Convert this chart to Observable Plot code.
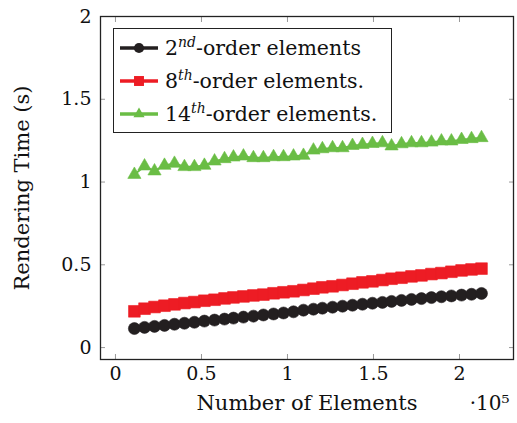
<!DOCTYPE html>
<html><head><meta charset="utf-8">
<script src="https://cdn.jsdelivr.net/npm/d3@7"></script>
<script src="https://cdn.jsdelivr.net/npm/@observablehq/plot@0.6"></script>
<style>
body{margin:0;background:#fff;}
#wrap{position:relative;width:517px;height:423px;font-family:"DejaVu Serif",serif;}
#legend{position:absolute;left:113px;top:28px;width:277px;height:103px;border:1.3px solid #222;background:#fff;}
.row{position:absolute;left:0;height:33px;display:flex;align-items:center;font-size:20.5px;color:#111;white-space:nowrap;}
.row svg{margin-left:6px;margin-right:7px;}
.sup{font-style:italic;font-size:0.68em;position:relative;top:-0.55em;}
</style></head><body><div id="wrap"><div id="chart"></div><div id="legend"></div></div>
<script>
// Number of elements (x values)
const xElems = [11000,16900,22700,28500,34300,40100,45900,51700,57600,63400,68600,74400,80200,86000,91900,97700,103500,109300,115100,120300,126200,132000,137800,143600,149400,155200,160500,166300,172100,177900,183700,189500,195300,201200,207000,212800];
// Rendering time (s), per element order
const order2 = [0.115,0.122,0.128,0.134,0.141,0.147,0.153,0.160,0.166,0.172,0.178,0.184,0.190,0.197,0.203,0.209,0.216,0.226,0.232,0.238,0.244,0.250,0.256,0.262,0.268,0.273,0.279,0.285,0.291,0.296,0.302,0.307,0.312,0.317,0.322,0.327];
const order8 = [0.219,0.235,0.245,0.253,0.261,0.269,0.275,0.283,0.289,0.297,0.303,0.309,0.315,0.320,0.328,0.334,0.340,0.348,0.356,0.364,0.370,0.378,0.386,0.394,0.400,0.408,0.416,0.422,0.430,0.436,0.444,0.450,0.458,0.466,0.472,0.477];
const order14 = [1.045,1.096,1.066,1.100,1.112,1.092,1.092,1.100,1.126,1.140,1.150,1.156,1.146,1.146,1.152,1.152,1.156,1.160,1.192,1.200,1.206,1.206,1.220,1.226,1.232,1.236,1.217,1.230,1.236,1.236,1.240,1.247,1.247,1.256,1.261,1.267];
const xTicks = [0,50000,100000,150000,200000];
const yTicks = [0,0.5,1,1.5,2];
const colors = ["#231f20","#ed1c24","#6abd45"];
const symbols = ["circle","square","triangle"];
const symR = [6,6.6,4.9];

const seriesVals = [order2, order8, order14];
const tables = seriesVals.map(vals => xElems.map((x,i)=>({x, t: vals[i]})));

const seriesMarks = tables.flatMap((tb,k)=>[
  Plot.line(tb,{x:"x",y:"t",stroke:colors[k],strokeWidth:2}),
  Plot.dot(tb,{x:"x",y:"t",r:symR[k],symbol:symbols[k],fill:colors[k],stroke:colors[k],strokeWidth:0.6})
]);

const chart = Plot.plot({
  width:517, height:423,
  marginLeft:100, marginRight:4, marginTop:16, marginBottom:64,
  style:{fontFamily:"DejaVu Serif", fontSize:"19px", color:"#111", background:"white", overflow:"visible"},
  x:{domain:[-8700,231400]},
  y:{domain:[-0.072,2.0]},
  marks:[
    Plot.axisX({ticks:xTicks, anchor:"bottom", tickSize:-5, stroke:"#999", tickFormat:()=>"", label:null}),
    Plot.axisX({ticks:xTicks, anchor:"top", tickSize:-5, stroke:"#999", tickFormat:()=>"", label:null}),
    Plot.axisY({ticks:yTicks, anchor:"left", tickSize:-5, stroke:"#999", tickFormat:()=>"", label:null}),
    Plot.axisY({ticks:yTicks, anchor:"right", tickSize:-5, stroke:"#999", tickFormat:()=>"", label:null}),
    Plot.axisX({ticks:xTicks, anchor:"bottom", tickSize:0, tickPadding:7, tickFormat:d=>String(d/1e5), label:null, fill:"#111"}),
    Plot.axisY({ticks:yTicks, anchor:"left", tickSize:0, tickPadding:9, tickFormat:d=>String(d), label:null, fill:"#111"}),
    ...seriesMarks,
    Plot.frame({stroke:"#222", strokeWidth:1.3}),
    Plot.text(["Number of Elements"],{frameAnchor:"bottom", dy:50, fontSize:21, fill:"#111"}),
    Plot.text(["Rendering Time (s)"],{frameAnchor:"left", textAnchor:"middle", dx:-78, rotate:-90, fontSize:21, fill:"#111"}),
    Plot.text(["·10⁵"],{frameAnchor:"bottom-right", textAnchor:"end", dx:-4, dy:50, fontSize:20, fill:"#111"})
  ]
});
document.getElementById("chart").appendChild(chart);

// Legend
const legend = document.getElementById("legend");
const rowTops = [2.5, 35.5, 68.5];
const labels = [["2","nd","-order elements"],["8","th","-order elements."],["14","th","-order elements."]];
labels.forEach((lab,k)=>{
  const row = document.createElement("div");
  row.className="row";
  row.style.top = rowTops[k]+"px";
  const svg = d3.create("svg").attr("width",38).attr("height",16);
  svg.append("line").attr("x1",0).attr("x2",38).attr("y1",8).attr("y2",8).attr("stroke",colors[k]).attr("stroke-width",3.5);
  svg.append("path").attr("transform","translate(19,8)")
     .attr("d", d3.symbol(k===0?d3.symbolCircle:k===1?d3.symbolSquare:d3.symbolTriangle, Math.PI*(symR[k]*0.85)**2)())
     .attr("fill",colors[k]);
  row.appendChild(svg.node());
  const span = document.createElement("span");
  span.innerHTML = lab[0]+'<span class="sup">'+lab[1]+'</span>'+lab[2];
  row.appendChild(span);
  legend.appendChild(row);
});
</script>
</body></html>
